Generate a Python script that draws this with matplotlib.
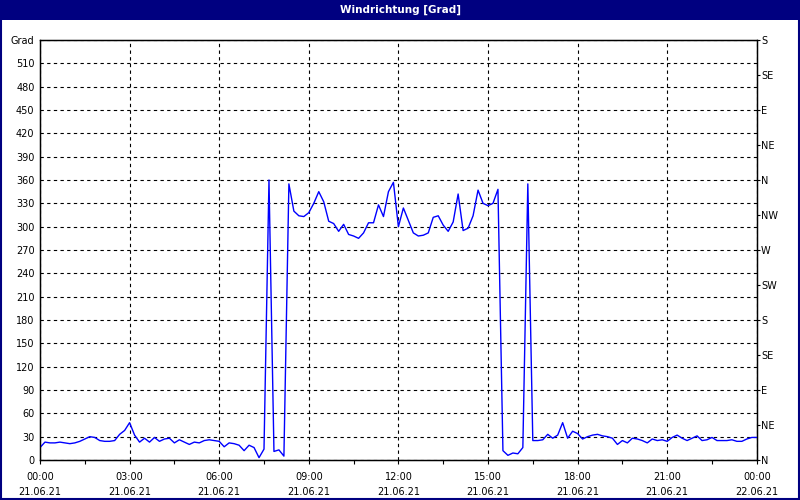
import numpy as np
import matplotlib
matplotlib.use("Agg")
import matplotlib.pyplot as plt
from matplotlib.patches import Rectangle

# wind direction, 10 minute values, 21.06.21 00:00 .. 22.06.21 00:00
direction = [
    16, 23, 22, 22, 23, 22, 21, 22, 24, 27, 30, 29, 25, 24, 24, 25, 33, 38,
    48, 32, 23, 28, 23, 29, 24, 27, 28, 22, 26, 23, 20, 23, 22, 25, 26, 25,
    24, 17, 22, 21, 19, 12, 19, 16, 3, 14, 360, 11, 13, 5, 355, 320,
    314, 313, 318, 330, 345, 332, 307, 304, 294, 303, 290, 288, 285, 292, 305, 305,
    328, 313, 345, 357, 300, 324, 308, 292, 288, 289, 292, 312, 314, 302, 294, 306,
    342, 295, 298, 314, 347, 330, 327, 330, 348, 12, 6, 9, 8, 16, 355, 25,
    25, 26, 33, 28, 32, 48, 28, 37, 34, 27, 30, 32, 33, 31, 30, 28, 20, 25,
    22, 28, 27, 25, 22, 27, 25, 26, 24, 29, 32, 28, 25, 28, 31, 25, 26, 29,
    25, 25, 25, 26, 24, 24, 27, 29, 29,
]
hours = np.arange(len(direction)) / 6.0

time_ticks = [0, 3, 6, 9, 12, 15, 18, 21, 24]
time_labels = ["00:00\n21.06.21", "03:00\n21.06.21", "06:00\n21.06.21",
               "09:00\n21.06.21", "12:00\n21.06.21", "15:00\n21.06.21",
               "18:00\n21.06.21", "21:00\n21.06.21", "00:00\n22.06.21"]
grad_ticks = list(range(0, 541, 30))
grad_labels = [str(v) for v in range(0, 511, 30)] + ["Grad"]
compass_ticks = list(range(0, 541, 45))
compass_labels = ["N", "NE", "E", "SE", "S", "SW", "W", "NW", "N", "NE", "E", "SE", "S"]

navy = "#000080"
plt.rcParams['font.family'] = ['DejaVu Sans']

fig = plt.figure(figsize=(8, 5), dpi=100)
fig.patch.set_facecolor("white")

# title bar and window frame
fig.patches.append(Rectangle((0, 0.96), 1, 0.04, transform=fig.transFigure,
                             facecolor=navy, edgecolor="none", zorder=0))
fig.patches.append(Rectangle((0.0015, 0.002), 0.997, 0.996, transform=fig.transFigure,
                             facecolor="none", edgecolor=navy, linewidth=1.5, zorder=5))
fig.text(0.5, 0.981, "Windrichtung [Grad]", color="white", fontsize=7.5,
         fontweight="bold", ha="center", va="center")

ax = fig.add_axes([0.05, 0.08, 0.896, 0.84])
ax.plot(hours, direction, color="#0000ff", linewidth=1.0, zorder=3)

ax.set_xlim(0, 24)
ax.set_ylim(0, 540)
ax.set_xticks(time_ticks)
ax.set_xticklabels(time_labels, fontsize=7, linespacing=1.55)
ax.set_xticks(np.arange(0, 24.1, 1.5), minor=True)
ax.set_yticks(grad_ticks)
ax.set_yticklabels(grad_labels, fontsize=7)
ax.tick_params(axis="x", which="both", direction="out", length=3, width=0.8, pad=6)
ax.tick_params(axis="y", length=0, pad=4)
ax.grid(True, color="black", linestyle=(0, (3, 3)), linewidth=0.8)
for sp in ax.spines.values():
    sp.set_linewidth(1.0)

ax2 = ax.twinx()
ax2.set_ylim(0, 540)
ax2.set_yticks(compass_ticks)
ax2.set_yticklabels(compass_labels, fontsize=7)
ax2.tick_params(axis="y", direction="out", length=2, width=0.8, pad=1)

fig.savefig("out.png", dpi=100)
